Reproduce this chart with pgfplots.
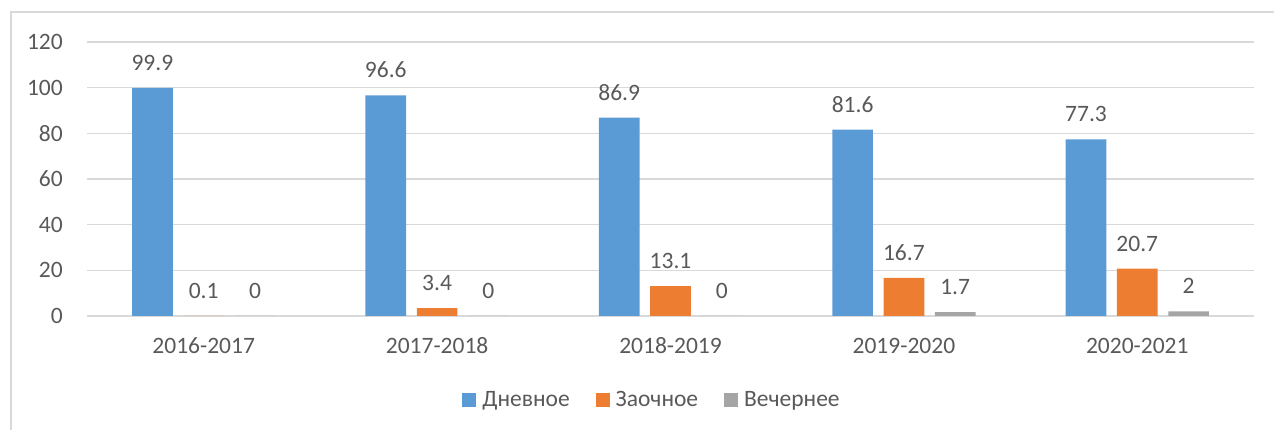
\documentclass[border=0pt]{standalone}
\usepackage{pgfplots}
\pgfplotsset{compat=1.18}
\usepackage{fontspec}
\setmainfont{Carlito}
\definecolor{cblue}{HTML}{5B9BD5}
\definecolor{corange}{HTML}{ED7D31}
\definecolor{cgray}{HTML}{A5A5A5}
\definecolor{ctext}{HTML}{595959}
\definecolor{cgrid}{HTML}{D9D9D9}
\begin{document}
\begin{tikzpicture}
\useasboundingbox (0,0) rectangle (1274pt,430pt);
\draw[cgrid, line width=1.5pt] (11pt,-5pt) -- (11pt,418pt) -- (1280pt,418pt);
\begin{axis}[
  at={(87pt,114pt)}, anchor=south west,
  scale only axis, width=1167pt, height=274pt,
  xmin=-0.5, xmax=4.5, ymin=0, ymax=120,
  ytick={0,20,...,120},
  xtick=data,
  xticklabels={2016-2017,2017-2018,2018-2019,2019-2020,2020-2021},
  ybar=10.6pt, bar width=40.7pt,
  axis line style={draw=none},
  major tick length=0pt,
  ymajorgrids, grid style={cgrid, line width=1.4pt},
  font=\fontsize{23.5pt}{28pt}\selectfont,
  tick label style={text=ctext},
  /pgf/number format/assume math mode=true,
  /pgf/number format/fixed, /pgf/number format/precision=1,
  yticklabel style={inner sep=0pt, xshift=-24pt},
  xticklabel style={anchor=base, inner sep=0pt, yshift=-38pt},
  nodes near coords,
  every node near coord/.append style={text=ctext, anchor=base, inner sep=0pt, yshift=17.5pt},
  clip=false,
  legend columns=-1,
  legend style={at={(0.4833,-0.3066)}, anchor=center, draw=none, fill=none,
    text=ctext, inner sep=0pt, nodes={inner sep=0pt},
    /tikz/every odd column/.append style={column sep=6pt},
    /tikz/every even column/.append style={column sep=26pt}},
  legend image code/.code={\fill[#1] (0pt,-7pt) rectangle (14pt,7pt);},
]
\addplot[fill=cblue, draw=none] coordinates {(0,99.9) (1,96.6) (2,86.9) (3,81.6) (4,77.3)};
\addplot[fill=corange, draw=none] coordinates {(0,0.1) (1,3.4) (2,13.1) (3,16.7) (4,20.7)};
\addplot[fill=cgray, draw=none] coordinates {(0,0) (1,0) (2,0) (3,1.7) (4,2)};
\legend{Дневное, Заочное, Вечернее}
\end{axis}
\end{tikzpicture}
\end{document}
